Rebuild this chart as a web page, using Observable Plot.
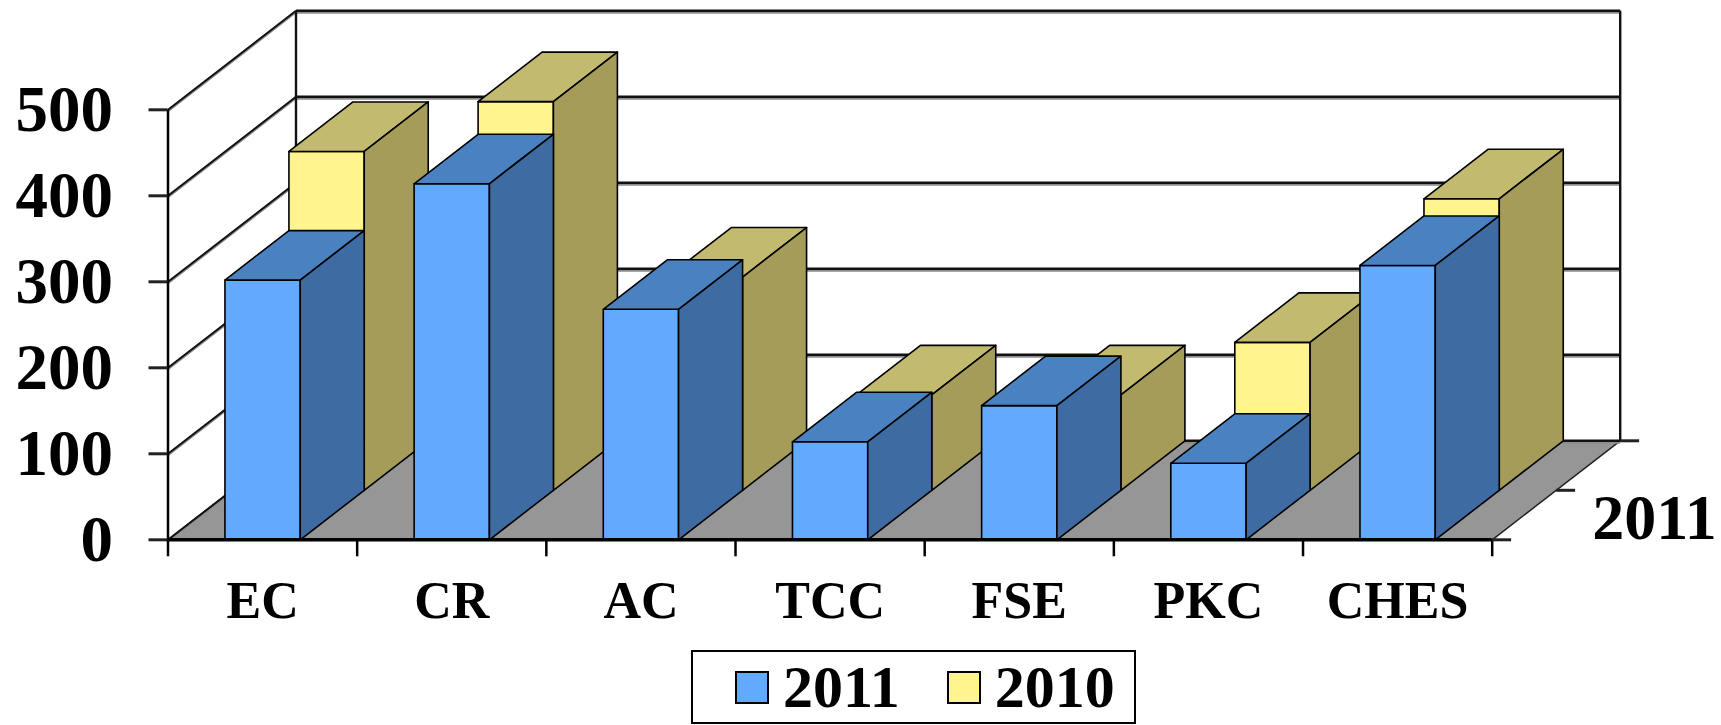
<!DOCTYPE html>
<html><head><meta charset="utf-8">
<script src="https://cdn.jsdelivr.net/npm/d3@7"></script>
<script src="https://cdn.jsdelivr.net/npm/@observablehq/plot@0.6"></script>
<style>
body{margin:0;background:#fff;}
#chart{position:relative;width:1721px;height:725px;overflow:hidden;}
#chart svg{display:block;}
#legend{position:absolute;left:691px;top:650px;width:445px;height:74px;box-sizing:border-box;border:2px solid #000;display:flex;align-items:center;padding-left:42px;font:bold 60px "Liberation Serif","Times New Roman",serif;line-height:1;color:#000;}
.sw{width:30px;height:29px;border:2px solid #000;margin-right:14px;flex:none;}
.lt{margin-right:47px;}
</style></head><body>
<div id="chart"></div>
<script>
// ---- data ----
const categories = ["EC", "CR", "AC", "TCC", "FSE", "PKC", "CHES"];
const seriesNames = ["2011", "2010"];
const values2011 = [302, 414, 268, 114, 156, 89, 319];
const values2010 = [394, 452, 248, 111, 111, 172, 339];
const yTicks = [0, 100, 200, 300, 400, 500];
const depthLabel = "2011";

// ---- 3D (oblique) geometry in data units ----
const DX = 128 / 189.17;   // full depth offset, in category units
const DY = 99 / 0.86;      // full depth offset, in value units
const BW = 0.398;          // bar width (category units)
const N = categories.length;
const P = (x, y, d) => ({x: x + d * DX, y: y + d * DY});

function barFaces(vals, s) {
  const d0 = s * 0.5, d1 = d0 + 0.5;
  const front = [], top = [], side = [];
  vals.forEach((v, i) => {
    const x0 = i + 0.5 - BW / 2, x1 = i + 0.5 + BW / 2, id = s + "-" + i;
    [[x0,0,d0],[x1,0,d0],[x1,v,d0],[x0,v,d0]].forEach(p => front.push({id, ...P(...p)}));
    [[x0,v,d0],[x1,v,d0],[x1,v,d1],[x0,v,d1]].forEach(p => top.push({id, ...P(...p)}));
    [[x1,0,d0],[x1,v,d0],[x1,v,d1],[x1,0,d1]].forEach(p => side.push({id, ...P(...p)}));
  });
  return {front, top, side};
}
const front2011 = barFaces(values2011, 0);
const back2010 = barFaces(values2010, 1);

const floor = [P(0,0,0), P(N,0,0), P(N,0,1), P(0,0,1)].map(p => ({id: "floor", ...p}));
const boundaries = d3.range(N + 1);
const centers = categories.map((_, i) => i + 0.5);
const depthTicks = [0, 0.5, 1];

const colors = {
  blue: {front: "#63a9fd", top: "#4a82c1", side: "#3e6ba2"},
  yellow: {front: "#fff48d", top: "#c2ba6e", side: "#a59c59"}
};
const face = (data, fill) => Plot.line(data, {x: "x", y: "y", z: "id", fill, stroke: "#000", strokeWidth: 1.6, curve: "linear-closed"});
const bars = (f, c) => [face(f.front, c.front), face(f.top, c.top), face(f.side, c.side)];

const font = "Liberation Serif, Times New Roman, serif";

const chart = Plot.plot({
  width: 1721,
  height: 645,
  marginLeft: 167.5,
  marginRight: 1721 - 1491.7,
  marginTop: 109.3,
  marginBottom: 645 - 539.3,
  x: {type: "linear", domain: [0, N]},
  y: {type: "linear", domain: [0, 500]},
  style: {fontFamily: font, fontWeight: "bold", color: "#000", background: "#fff", overflow: "visible"},
  marks: [
    // floor
    Plot.line(floor, {x: "x", y: "y", z: "id", fill: "#969696", stroke: "#222", strokeWidth: 1.5, curve: "linear-closed"}),
    // back wall gridlines (gray shadow + dark line)
    Plot.link(yTicks, {x1: () => DX, y1: d => d + DY, x2: () => N + DX, y2: d => d + DY, stroke: "#8c8c8c", strokeWidth: 2, dy: 2}),
    Plot.link(yTicks, {x1: () => DX, y1: d => d + DY, x2: () => N + DX, y2: d => d + DY, stroke: "#111", strokeWidth: 2.4}),
    // side wall diagonals
    Plot.link(yTicks, {x1: () => 0, y1: d => d, x2: () => DX, y2: d => d + DY, stroke: "#8c8c8c", strokeWidth: 2, dy: 1.5}),
    Plot.link(yTicks, {x1: () => 0, y1: d => d, x2: () => DX, y2: d => d + DY, stroke: "#111", strokeWidth: 2}),
    // back wall verticals
    Plot.link([0, N], {x1: d => d + DX, y1: () => DY, x2: d => d + DX, y2: () => 500 + DY, stroke: "#111", strokeWidth: 2.4}),
    // bars: back row (2010) then front row (2011)
    ...bars(back2010, colors.yellow),
    ...bars(front2011, colors.blue),
    // front axis and floor front edge
    Plot.ruleX([0], {stroke: "#000", strokeWidth: 2.5}),
    Plot.ruleY([0], {stroke: "#000", strokeWidth: 3.5}),
    // y axis
    Plot.axisY(yTicks, {tickSize: 19, tickPadding: 36, fontSize: 65, fontWeight: "bold", fontFamily: font, stroke: "#222", strokeWidth: 3, label: null}),
    // category boundary ticks
    Plot.axisX(boundaries, {tickSize: 17, tickPadding: 0, tickFormat: () => "", stroke: "#000", strokeWidth: 2.5, label: null}),
    // category labels
    Plot.axisX(centers, {tickSize: 0, tickPadding: 41, tickFormat: d => categories[Math.floor(d)], fontSize: 52, fontWeight: "bold", fontFamily: font, label: null}),
    // depth axis ticks & label
    Plot.link(depthTicks, {x1: d => N + d * DX, y1: d => d * DY, x2: d => N + d * DX + 0.1, y2: d => d * DY, stroke: "#222", strokeWidth: 3}),
    Plot.text([depthLabel], {x: () => N + 0.25 * DX, y: () => 0.25 * DY, text: d => d, textAnchor: "start", lineAnchor: "middle", dx: 68, dy: 3, fontSize: 64, fontWeight: "bold", fontFamily: font, fill: "#000"})
  ]
});

const host = document.getElementById("chart");
host.appendChild(chart);

// legend (below the svg)
const legend = document.createElement("div");
legend.id = "legend";
const legendColors = [colors.blue.front, colors.yellow.front];
seriesNames.forEach((name, i) => {
  const sw = document.createElement("span");
  sw.className = "sw";
  sw.style.background = legendColors[i];
  const t = document.createElement("span");
  t.textContent = name;
  if (i === 0) t.className = "lt";
  legend.appendChild(sw);
  legend.appendChild(t);
});
host.appendChild(legend);
</script>
</body></html>
